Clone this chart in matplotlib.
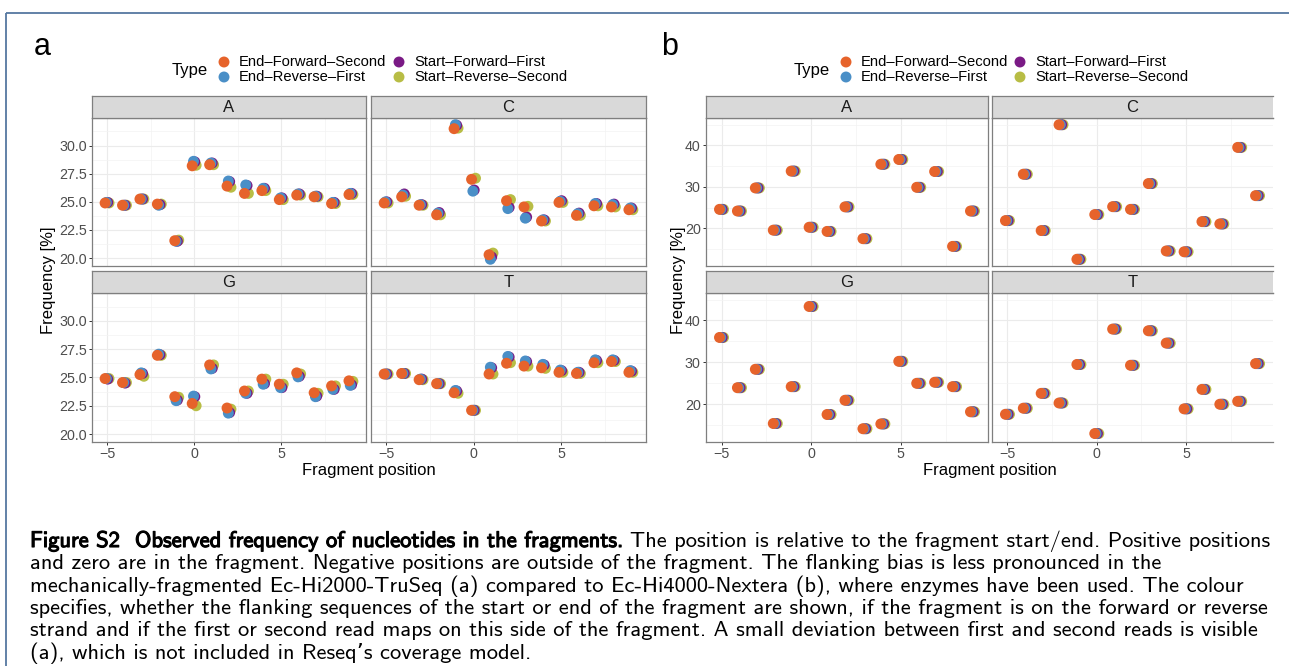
import matplotlib
matplotlib.use("Agg")
import matplotlib.pyplot as plt
from matplotlib import patheffects

W, H = 1289, 666

plt.rcParams["font.family"] = ["Liberation Sans", "DejaVu Sans"]

# ---- data -------------------------------------------------------------
POSITIONS = list(range(-5, 10))
NUCLEOTIDES = ["A", "C", "G", "T"]
TYPES = ["End-Forward-Second", "End-Reverse-First",
         "Start-Forward-First", "Start-Reverse-Second"]
TYPE_COLORS = ["#E6632B", "#4A8FC7", "#7A1A85", "#B8BD45"]

# (a) Ec-Hi2000-TruSeq
A_END_FWD_SECOND = {
    "A": [24.9, 24.7, 25.25, 24.8, 21.55, 28.2, 28.3, 26.4, 25.75, 26.0, 25.2, 25.6, 25.45, 24.85, 25.65],
    "C": [24.9, 25.45, 24.7, 23.85, 31.5, 27.0, 20.3, 25.1, 24.55, 23.3, 24.95, 23.8, 24.65, 24.55, 24.3],
    "G": [24.9, 24.55, 25.25, 26.95, 23.3, 22.7, 26.1, 22.3, 23.8, 24.85, 24.4, 25.4, 23.65, 24.25, 24.7],
    "T": [25.3, 25.35, 24.8, 24.45, 23.65, 22.1, 25.3, 26.25, 26.0, 25.85, 25.45, 25.35, 26.3, 26.4, 25.45],
}
A_END_REV_FIRST = {
    "A": [24.95, 24.7, 25.25, 24.7, 21.5, 28.6, 28.45, 26.85, 26.5, 26.2, 25.35, 25.7, 25.5, 24.95, 25.75],
    "C": [25.0, 25.6, 24.75, 24.0, 31.85, 25.95, 19.9, 24.4, 23.55, 23.4, 25.05, 23.95, 24.85, 24.75, 24.45],
    "G": [24.9, 24.55, 25.4, 27.05, 22.95, 23.35, 25.75, 21.85, 23.6, 24.4, 24.1, 25.05, 23.3, 23.95, 24.3],
    "T": [25.3, 25.35, 24.85, 24.45, 23.85, 22.1, 25.9, 26.85, 26.45, 26.15, 25.65, 25.45, 26.55, 26.55, 25.6],
}
A_START_FWD_FIRST = {
    "A": [24.95, 24.7, 25.25, 24.75, 21.5, 28.55, 28.45, 26.8, 26.45, 26.2, 25.35, 25.7, 25.5, 24.95, 25.75],
    "C": [25.0, 25.7, 24.75, 24.05, 31.8, 26.05, 20.1, 24.5, 23.65, 23.4, 25.1, 24.0, 24.85, 24.8, 24.45],
    "G": [24.85, 24.5, 25.35, 27.0, 23.0, 23.3, 25.8, 21.9, 23.6, 24.45, 24.1, 25.1, 23.35, 23.95, 24.35],
    "T": [25.3, 25.35, 24.85, 24.45, 23.8, 22.1, 25.85, 26.8, 26.4, 26.1, 25.6, 25.45, 26.5, 26.5, 25.55],
}
A_START_REV_SECOND = {
    "A": [24.9, 24.7, 25.25, 24.8, 21.6, 28.25, 28.3, 26.3, 25.75, 26.0, 25.2, 25.6, 25.45, 24.85, 25.65],
    "C": [24.9, 25.5, 24.7, 23.85, 31.55, 27.1, 20.45, 25.2, 24.6, 23.3, 24.95, 23.8, 24.65, 24.55, 24.3],
    "G": [24.9, 24.55, 25.1, 26.95, 23.25, 22.5, 26.1, 22.2, 23.8, 24.85, 24.4, 25.3, 23.6, 24.25, 24.65],
    "T": [25.3, 25.35, 24.8, 24.45, 23.6, 22.1, 25.3, 26.3, 26.0, 25.8, 25.45, 25.35, 26.3, 26.4, 25.45],
}

# (b) Ec-Hi4000-Nextera: the four types lie on top of each other
B_ALL_TYPES = {
    "A": [24.6, 24.2, 29.75, 19.6, 33.8, 20.3, 19.3, 25.2, 17.55, 35.45, 36.6, 29.9, 33.7, 15.7, 24.2],
    "C": [21.9, 33.05, 19.5, 44.95, 12.6, 23.35, 25.25, 24.6, 30.8, 14.6, 14.4, 21.65, 21.1, 39.5, 27.9],
    "G": [35.95, 23.95, 28.35, 15.4, 24.2, 43.35, 17.55, 20.95, 14.15, 15.3, 30.25, 25.0, 25.25, 24.2, 18.2],
    "T": [17.6, 19.05, 22.6, 20.3, 29.5, 13.0, 37.95, 29.3, 37.55, 34.6, 18.9, 23.55, 20.0, 20.7, 29.7],
}

SERIES_A = [A_END_FWD_SECOND, A_END_REV_FIRST, A_START_FWD_FIRST, A_START_REV_SECOND]
SERIES_B = [B_ALL_TYPES, B_ALL_TYPES, B_ALL_TYPES, B_ALL_TYPES]

CAPTION_BOLD = "Figure S2  Observed frequency of nucleotides in the fragments."
CAPTION_FIRST = "The position is relative to the fragment start/end. Positive positions"
CAPTION_REST = [
    "and zero are in the fragment. Negative positions are outside of the fragment. The flanking bias is less pronounced in the",
    "mechanically-fragmented Ec-Hi2000-TruSeq (a) compared to Ec-Hi4000-Nextera (b), where enzymes have been used. The colour",
    "specifies, whether the flanking sequences of the start or end of the fragment are shown, if the fragment is on the forward or reverse",
    "strand and if the first or second read maps on this side of the fragment. A small deviation between first and second reads is visible",
    "(a), which is not included in Reseq\u2019s coverage model.",
]

# ---- styling ----------------------------------------------------------
DODGE_WIDTH = 0.3
N_TYPES = len(TYPES)
DODGE = [DODGE_WIDTH * ((k + 0.5) / N_TYPES - 0.5) for k in range(N_TYPES)]
BORDER = "#7f7f7f"
GRID_MAJOR = "#EBEBEB"
GRID_MINOR = "#F3F3F3"
TICK_PT = 2.2
POINT_S = 62


def rect(x0, y0, x1, y1):
    return [x0 / W, 1 - y1 / H, (x1 - x0) / W, (y1 - y0) / H]


def value_limits(series):
    vals = [v for s in series for nuc in NUCLEOTIDES for v in s[nuc]]
    lo, hi = min(vals), max(vals)
    pad = 0.05 * (hi - lo)
    return lo - pad, hi + pad


def draw_facets(fig, ov, series, cols, yticks, yminor, yfmt, title_x, legend_x, tag, tag_x):
    rows_strip = [(96, 118), (270.5, 293)]
    rows_panel = [(118, 266), (293, 442)]
    ylim = value_limits(series)
    # dodged groups occupy +-width/2 around each position
    xlo = min(POSITIONS) - DODGE_WIDTH / 2
    xhi = max(POSITIONS) + DODGE_WIDTH / 2
    xpad = 0.05 * (xhi - xlo)

    for i, nuc in enumerate(NUCLEOTIDES):
        r, c = divmod(i, 2)
        x0, x1 = cols[c]
        open_right = tag == "b" and c == 1

        ax = fig.add_axes(rect(x0, rows_panel[r][0], x1, rows_panel[r][1]))
        for k in range(N_TYPES):
            ax.scatter([p + DODGE[k] for p in POSITIONS], series[k][nuc],
                       s=POINT_S, color=TYPE_COLORS[k], edgecolors="none",
                       zorder=10 - k)
        ax.set_xlim(xlo - xpad, xhi + xpad)
        ax.set_ylim(*ylim)
        ax.set_xticks([-5, 0, 5])
        ax.set_xticks([-2.5, 2.5, 7.5], minor=True)
        ax.set_yticks(yticks)
        ax.set_yticks(yminor, minor=True)
        ax.set_yticklabels([yfmt.format(v) for v in yticks])
        ax.grid(which="major", color=GRID_MAJOR, linewidth=0.8)
        ax.grid(which="minor", color=GRID_MINOR, linewidth=0.5)
        ax.set_axisbelow(True)
        for sp in ax.spines.values():
            sp.set_color(BORDER)
            sp.set_linewidth(0.9)
        if open_right:
            ax.spines["right"].set_visible(False)
        ax.tick_params(which="minor", length=0)
        ax.tick_params(which="major", length=TICK_PT, width=0.7, color="#333333",
                       labelsize=10.3, labelcolor="#4d4d4d", pad=1.6)
        if c == 1:
            ax.tick_params(axis="y", left=False, labelleft=False)
        if r == 0:
            ax.tick_params(axis="x", bottom=False, labelbottom=False)
        ax.set_xticklabels([str(v).replace("-", "\u2212") for v in [-5, 0, 5]])

        sax = fig.add_axes(rect(x0, rows_strip[r][0], x1, rows_strip[r][1]))
        sax.set_facecolor("#D9D9D9")
        sax.set_xticks([])
        sax.set_yticks([])
        for sp in sax.spines.values():
            sp.set_color(BORDER)
            sp.set_linewidth(0.9)
        if open_right:
            sax.spines["right"].set_visible(False)
        sax.text(0.5, 0.48, nuc, ha="center", va="center", fontsize=12,
                 color="#1a1a1a", transform=sax.transAxes)

    # axis titles
    ov.text(title_x[0], 475, "Fragment position", ha="center", va="baseline", fontsize=12)
    ov.text(title_x[1], 280, "Frequency [%]", ha="center", va="center",
            rotation=90, fontsize=12)

    # legend
    ty, dot1, dot2 = legend_x
    ov.text(ty, 70, "Type", ha="right", va="center", fontsize=12)
    for k in range(N_TYPES):
        col, row = divmod(k, 2)
        dx = dot1 if col == 0 else dot2
        yy = 62 if row == 0 else 77
        ov.scatter([dx], [yy], s=POINT_S, color=TYPE_COLORS[k], edgecolors="none")
        ov.text(dx + 15, yy, TYPES[k].replace("-", "\u2013"), ha="left", va="center",
                fontsize=10.6)

    ov.text(tag_x, 55, tag, ha="left", va="baseline", fontsize=22)


fig = plt.figure(figsize=(W / 100, H / 100), dpi=100)
ov = fig.add_axes([0, 0, 1, 1], zorder=10)
ov.set_xlim(0, W)
ov.set_ylim(H, 0)
ov.axis("off")
ov.patch.set_alpha(0)

draw_facets(fig, ov, SERIES_A, [(92, 366), (371, 646)],
            [20, 22.5, 25, 27.5, 30], [21.25, 23.75, 26.25, 28.75, 31.25], "{:.1f}",
            (369, 48), (208, 224, 399), "a", 34)
draw_facets(fig, ov, SERIES_B, [(706, 988), (992, 1273)],
            [20, 30, 40], [15, 25, 35, 45], "{:.0f}",
            (990, 678), (830, 846, 1020), "b", 661)

# outer frame
frame = "#5577a0"
ov.plot([6, W], [13, 13], color=frame, linewidth=1.3, solid_capstyle="butt")
ov.plot([6, 6], [13, H], color=frame, linewidth=1.3, solid_capstyle="butt")

# caption
cap_font = ["cmss10", "DejaVu Sans"]
cap_size = 16.2
baselines = [547, 569.3, 591.6, 613.9, 636.2, 658.5]
bold = ov.text(30, baselines[0], CAPTION_BOLD, ha="left", va="baseline",
               family=cap_font, fontsize=cap_size, color="black",
               path_effects=[patheffects.withStroke(linewidth=0.8, foreground="black")])
fig.canvas.draw()
bb = bold.get_window_extent(renderer=fig.canvas.get_renderer())
ov.text(bb.x1 + 8, baselines[0], CAPTION_FIRST, ha="left", va="baseline",
        family=cap_font, fontsize=cap_size, color="black")
for yb, line in zip(baselines[1:], CAPTION_REST):
    ov.text(30, yb, line, ha="left", va="baseline", family=cap_font,
            fontsize=cap_size, color="black")

fig.savefig("out.png", dpi=100)
